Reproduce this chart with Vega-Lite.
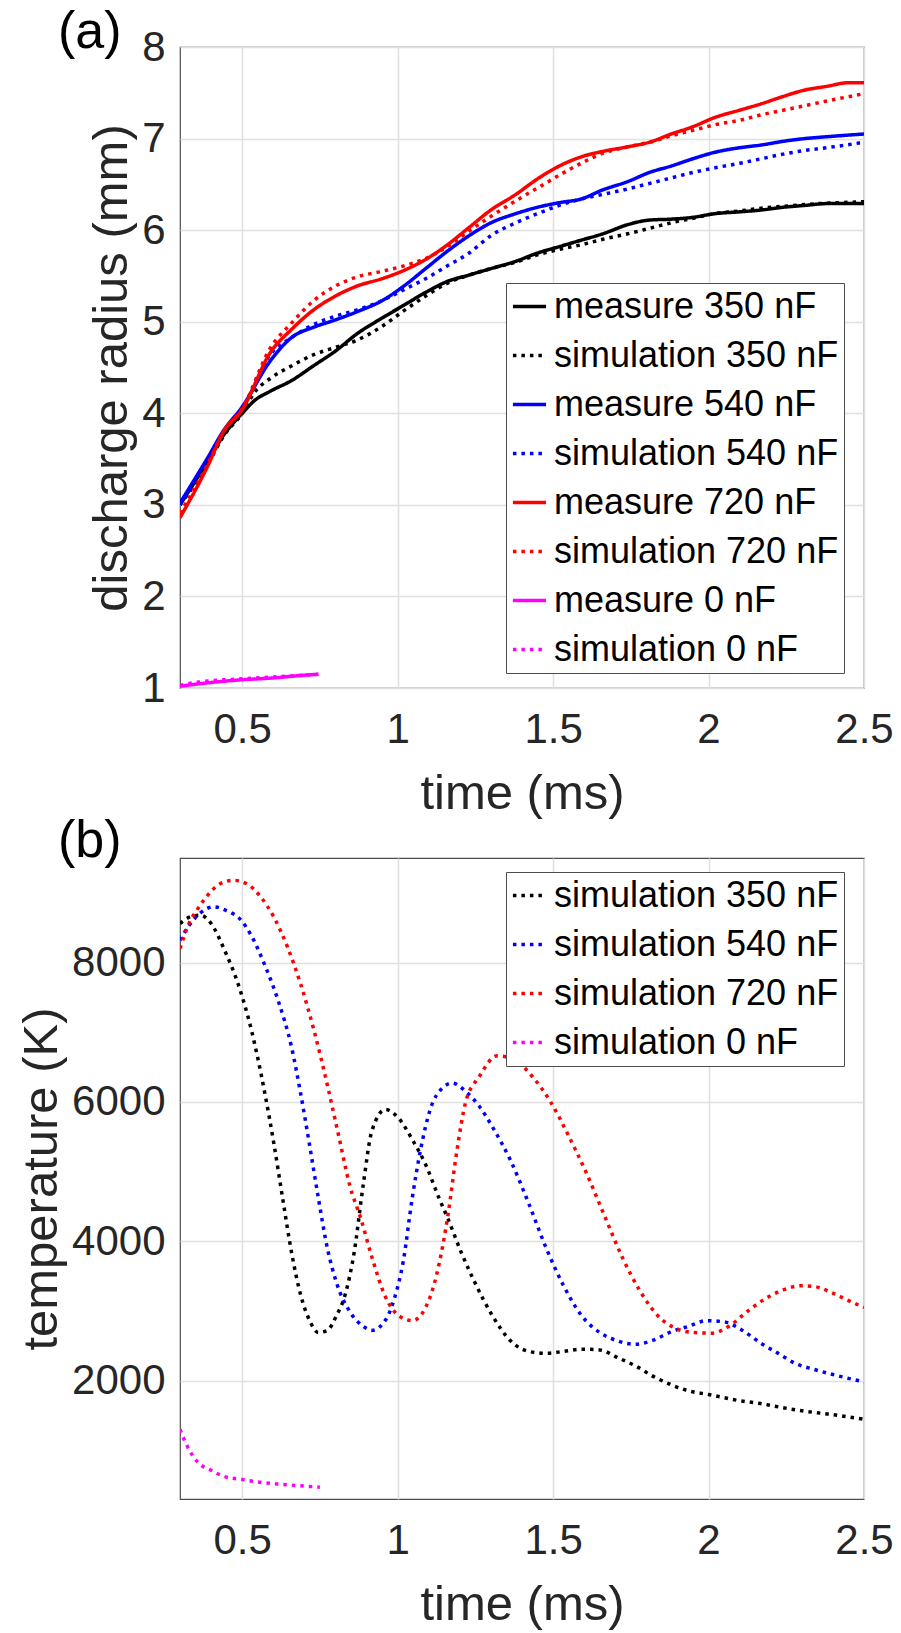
{
  "$schema": "https://vega.github.io/schema/vega-lite/v6.json",
  "padding": {"left": 16, "top": 5, "right": 0, "bottom": 0},
  "spacing": 170,
  "bounds": "flush",
  "config": {
    "font": "Liberation Sans",
    "view": {"stroke": "#4d4d4d", "strokeWidth": 1.2},
    "axis": {"labelFont": "Liberation Sans", "labelFontSize": 42, "labelColor": "#262626", "titleFont": "Liberation Sans", "titleFontSize": 49, "titleFontWeight": "normal", "titleColor": "#262626", "domain": false, "ticks": false, "tickSize": 0, "gridColor": "#e0e0e0", "gridWidth": 1.5, "gridOpacity": 1, "labelFlush": false, "labelOverlap": false},
    "axisX": {"labelPadding": 21, "titlePadding": 19},
    "axisY": {"labelPadding": 15, "titlePadding": 5},
    "legend": {"title": null, "symbolType": "stroke", "symbolSize": 1100, "symbolStrokeWidth": 3.5, "labelFont": "Liberation Sans", "labelFontSize": 36, "labelColor": "#000000", "rowPadding": 12, "padding": 5, "strokeColor": "#4d4d4d", "fillColor": "#ffffff", "labelOffset": 6, "orient": "none", "labelLimit": 400}
  },
  "datasets": {
    "radius": [
      {"s": "measure 350 nF", "t": 0.3, "r": 3.0}, {"s": "measure 350 nF", "t": 0.39, "r": 3.48}, {"s": "measure 350 nF", "t": 0.44, "r": 3.76}, {"s": "measure 350 nF", "t": 0.5, "r": 4.0}, {"s": "measure 350 nF", "t": 0.54, "r": 4.14}, {"s": "measure 350 nF", "t": 0.59, "r": 4.24}, {"s": "measure 350 nF", "t": 0.66, "r": 4.36}, {"s": "measure 350 nF", "t": 0.73, "r": 4.52}, {"s": "measure 350 nF", "t": 0.8, "r": 4.68}, {"s": "measure 350 nF", "t": 0.87, "r": 4.87}, {"s": "measure 350 nF", "t": 0.95, "r": 5.04}, {"s": "measure 350 nF", "t": 1.02, "r": 5.18}, {"s": "measure 350 nF", "t": 1.09, "r": 5.32}, {"s": "measure 350 nF", "t": 1.16, "r": 5.44}, {"s": "measure 350 nF", "t": 1.23, "r": 5.51}, {"s": "measure 350 nF", "t": 1.3, "r": 5.58}, {"s": "measure 350 nF", "t": 1.38, "r": 5.66}, {"s": "measure 350 nF", "t": 1.45, "r": 5.75}, {"s": "measure 350 nF", "t": 1.52, "r": 5.82}, {"s": "measure 350 nF", "t": 1.59, "r": 5.89}, {"s": "measure 350 nF", "t": 1.66, "r": 5.96}, {"s": "measure 350 nF", "t": 1.74, "r": 6.06}, {"s": "measure 350 nF", "t": 1.81, "r": 6.11}, {"s": "measure 350 nF", "t": 1.88, "r": 6.12}, {"s": "measure 350 nF", "t": 1.95, "r": 6.14}, {"s": "measure 350 nF", "t": 2.02, "r": 6.18}, {"s": "measure 350 nF", "t": 2.1, "r": 6.2}, {"s": "measure 350 nF", "t": 2.17, "r": 6.22}, {"s": "measure 350 nF", "t": 2.24, "r": 6.25}, {"s": "measure 350 nF", "t": 2.31, "r": 6.27}, {"s": "measure 350 nF", "t": 2.38, "r": 6.29}, {"s": "measure 350 nF", "t": 2.5, "r": 6.29},
      {"s": "simulation 350 nF", "t": 0.3, "r": 3.0}, {"s": "simulation 350 nF", "t": 0.39, "r": 3.45}, {"s": "simulation 350 nF", "t": 0.44, "r": 3.75}, {"s": "simulation 350 nF", "t": 0.5, "r": 4.0}, {"s": "simulation 350 nF", "t": 0.54, "r": 4.23}, {"s": "simulation 350 nF", "t": 0.59, "r": 4.38}, {"s": "simulation 350 nF", "t": 0.66, "r": 4.52}, {"s": "simulation 350 nF", "t": 0.73, "r": 4.64}, {"s": "simulation 350 nF", "t": 0.8, "r": 4.72}, {"s": "simulation 350 nF", "t": 0.87, "r": 4.8}, {"s": "simulation 350 nF", "t": 0.95, "r": 4.95}, {"s": "simulation 350 nF", "t": 1.02, "r": 5.12}, {"s": "simulation 350 nF", "t": 1.09, "r": 5.28}, {"s": "simulation 350 nF", "t": 1.16, "r": 5.42}, {"s": "simulation 350 nF", "t": 1.23, "r": 5.51}, {"s": "simulation 350 nF", "t": 1.3, "r": 5.58}, {"s": "simulation 350 nF", "t": 1.38, "r": 5.65}, {"s": "simulation 350 nF", "t": 1.45, "r": 5.73}, {"s": "simulation 350 nF", "t": 1.52, "r": 5.79}, {"s": "simulation 350 nF", "t": 1.59, "r": 5.84}, {"s": "simulation 350 nF", "t": 1.66, "r": 5.9}, {"s": "simulation 350 nF", "t": 1.74, "r": 5.96}, {"s": "simulation 350 nF", "t": 1.81, "r": 6.02}, {"s": "simulation 350 nF", "t": 1.88, "r": 6.08}, {"s": "simulation 350 nF", "t": 1.95, "r": 6.13}, {"s": "simulation 350 nF", "t": 2.02, "r": 6.18}, {"s": "simulation 350 nF", "t": 2.1, "r": 6.21}, {"s": "simulation 350 nF", "t": 2.17, "r": 6.24}, {"s": "simulation 350 nF", "t": 2.24, "r": 6.26}, {"s": "simulation 350 nF", "t": 2.31, "r": 6.28}, {"s": "simulation 350 nF", "t": 2.5, "r": 6.31},
      {"s": "measure 540 nF", "t": 0.3, "r": 3.02}, {"s": "measure 540 nF", "t": 0.39, "r": 3.52}, {"s": "measure 540 nF", "t": 0.44, "r": 3.81}, {"s": "measure 540 nF", "t": 0.5, "r": 4.07}, {"s": "measure 540 nF", "t": 0.59, "r": 4.57}, {"s": "measure 540 nF", "t": 0.66, "r": 4.83}, {"s": "measure 540 nF", "t": 0.73, "r": 4.94}, {"s": "measure 540 nF", "t": 0.8, "r": 5.02}, {"s": "measure 540 nF", "t": 0.87, "r": 5.11}, {"s": "measure 540 nF", "t": 0.95, "r": 5.23}, {"s": "measure 540 nF", "t": 1.02, "r": 5.39}, {"s": "measure 540 nF", "t": 1.09, "r": 5.58}, {"s": "measure 540 nF", "t": 1.16, "r": 5.77}, {"s": "measure 540 nF", "t": 1.23, "r": 5.94}, {"s": "measure 540 nF", "t": 1.3, "r": 6.08}, {"s": "measure 540 nF", "t": 1.38, "r": 6.18}, {"s": "measure 540 nF", "t": 1.45, "r": 6.25}, {"s": "measure 540 nF", "t": 1.52, "r": 6.3}, {"s": "measure 540 nF", "t": 1.59, "r": 6.34}, {"s": "measure 540 nF", "t": 1.66, "r": 6.44}, {"s": "measure 540 nF", "t": 1.74, "r": 6.53}, {"s": "measure 540 nF", "t": 1.81, "r": 6.63}, {"s": "measure 540 nF", "t": 1.88, "r": 6.7}, {"s": "measure 540 nF", "t": 1.95, "r": 6.78}, {"s": "measure 540 nF", "t": 2.02, "r": 6.85}, {"s": "measure 540 nF", "t": 2.1, "r": 6.9}, {"s": "measure 540 nF", "t": 2.17, "r": 6.93}, {"s": "measure 540 nF", "t": 2.24, "r": 6.97}, {"s": "measure 540 nF", "t": 2.31, "r": 7.0}, {"s": "measure 540 nF", "t": 2.38, "r": 7.02}, {"s": "measure 540 nF", "t": 2.5, "r": 7.05},
      {"s": "simulation 540 nF", "t": 0.3, "r": 3.0}, {"s": "simulation 540 nF", "t": 0.39, "r": 3.5}, {"s": "simulation 540 nF", "t": 0.44, "r": 3.8}, {"s": "simulation 540 nF", "t": 0.5, "r": 4.05}, {"s": "simulation 540 nF", "t": 0.59, "r": 4.64}, {"s": "simulation 540 nF", "t": 0.66, "r": 4.83}, {"s": "simulation 540 nF", "t": 0.73, "r": 4.97}, {"s": "simulation 540 nF", "t": 0.8, "r": 5.06}, {"s": "simulation 540 nF", "t": 0.87, "r": 5.13}, {"s": "simulation 540 nF", "t": 0.95, "r": 5.23}, {"s": "simulation 540 nF", "t": 1.02, "r": 5.35}, {"s": "simulation 540 nF", "t": 1.09, "r": 5.47}, {"s": "simulation 540 nF", "t": 1.16, "r": 5.61}, {"s": "simulation 540 nF", "t": 1.23, "r": 5.75}, {"s": "simulation 540 nF", "t": 1.3, "r": 5.94}, {"s": "simulation 540 nF", "t": 1.38, "r": 6.08}, {"s": "simulation 540 nF", "t": 1.45, "r": 6.18}, {"s": "simulation 540 nF", "t": 1.52, "r": 6.27}, {"s": "simulation 540 nF", "t": 1.59, "r": 6.34}, {"s": "simulation 540 nF", "t": 1.66, "r": 6.39}, {"s": "simulation 540 nF", "t": 1.74, "r": 6.45}, {"s": "simulation 540 nF", "t": 1.81, "r": 6.51}, {"s": "simulation 540 nF", "t": 1.88, "r": 6.57}, {"s": "simulation 540 nF", "t": 1.95, "r": 6.63}, {"s": "simulation 540 nF", "t": 2.02, "r": 6.68}, {"s": "simulation 540 nF", "t": 2.1, "r": 6.73}, {"s": "simulation 540 nF", "t": 2.17, "r": 6.78}, {"s": "simulation 540 nF", "t": 2.24, "r": 6.83}, {"s": "simulation 540 nF", "t": 2.31, "r": 6.87}, {"s": "simulation 540 nF", "t": 2.38, "r": 6.9}, {"s": "simulation 540 nF", "t": 2.5, "r": 6.96},
      {"s": "measure 720 nF", "t": 0.3, "r": 2.86}, {"s": "measure 720 nF", "t": 0.39, "r": 3.43}, {"s": "measure 720 nF", "t": 0.44, "r": 3.8}, {"s": "measure 720 nF", "t": 0.5, "r": 4.04}, {"s": "measure 720 nF", "t": 0.59, "r": 4.66}, {"s": "measure 720 nF", "t": 0.66, "r": 4.92}, {"s": "measure 720 nF", "t": 0.73, "r": 5.13}, {"s": "measure 720 nF", "t": 0.8, "r": 5.28}, {"s": "measure 720 nF", "t": 0.87, "r": 5.39}, {"s": "measure 720 nF", "t": 0.95, "r": 5.47}, {"s": "measure 720 nF", "t": 1.02, "r": 5.56}, {"s": "measure 720 nF", "t": 1.09, "r": 5.68}, {"s": "measure 720 nF", "t": 1.16, "r": 5.84}, {"s": "measure 720 nF", "t": 1.23, "r": 6.03}, {"s": "measure 720 nF", "t": 1.3, "r": 6.22}, {"s": "measure 720 nF", "t": 1.38, "r": 6.39}, {"s": "measure 720 nF", "t": 1.45, "r": 6.56}, {"s": "measure 720 nF", "t": 1.52, "r": 6.7}, {"s": "measure 720 nF", "t": 1.59, "r": 6.8}, {"s": "measure 720 nF", "t": 1.66, "r": 6.86}, {"s": "measure 720 nF", "t": 1.74, "r": 6.91}, {"s": "measure 720 nF", "t": 1.81, "r": 6.96}, {"s": "measure 720 nF", "t": 1.88, "r": 7.05}, {"s": "measure 720 nF", "t": 1.95, "r": 7.13}, {"s": "measure 720 nF", "t": 2.02, "r": 7.23}, {"s": "measure 720 nF", "t": 2.1, "r": 7.31}, {"s": "measure 720 nF", "t": 2.17, "r": 7.38}, {"s": "measure 720 nF", "t": 2.24, "r": 7.46}, {"s": "measure 720 nF", "t": 2.31, "r": 7.53}, {"s": "measure 720 nF", "t": 2.38, "r": 7.57}, {"s": "measure 720 nF", "t": 2.45, "r": 7.61}, {"s": "measure 720 nF", "t": 2.5, "r": 7.61},
      {"s": "simulation 720 nF", "t": 0.3, "r": 2.91}, {"s": "simulation 720 nF", "t": 0.39, "r": 3.45}, {"s": "simulation 720 nF", "t": 0.44, "r": 3.8}, {"s": "simulation 720 nF", "t": 0.5, "r": 4.05}, {"s": "simulation 720 nF", "t": 0.59, "r": 4.71}, {"s": "simulation 720 nF", "t": 0.66, "r": 4.99}, {"s": "simulation 720 nF", "t": 0.73, "r": 5.23}, {"s": "simulation 720 nF", "t": 0.8, "r": 5.39}, {"s": "simulation 720 nF", "t": 0.87, "r": 5.49}, {"s": "simulation 720 nF", "t": 0.95, "r": 5.55}, {"s": "simulation 720 nF", "t": 1.02, "r": 5.61}, {"s": "simulation 720 nF", "t": 1.09, "r": 5.69}, {"s": "simulation 720 nF", "t": 1.16, "r": 5.82}, {"s": "simulation 720 nF", "t": 1.23, "r": 5.99}, {"s": "simulation 720 nF", "t": 1.3, "r": 6.15}, {"s": "simulation 720 nF", "t": 1.38, "r": 6.32}, {"s": "simulation 720 nF", "t": 1.45, "r": 6.46}, {"s": "simulation 720 nF", "t": 1.52, "r": 6.6}, {"s": "simulation 720 nF", "t": 1.59, "r": 6.73}, {"s": "simulation 720 nF", "t": 1.66, "r": 6.84}, {"s": "simulation 720 nF", "t": 1.74, "r": 6.91}, {"s": "simulation 720 nF", "t": 1.81, "r": 6.96}, {"s": "simulation 720 nF", "t": 1.88, "r": 7.03}, {"s": "simulation 720 nF", "t": 1.95, "r": 7.09}, {"s": "simulation 720 nF", "t": 2.02, "r": 7.15}, {"s": "simulation 720 nF", "t": 2.1, "r": 7.2}, {"s": "simulation 720 nF", "t": 2.17, "r": 7.26}, {"s": "simulation 720 nF", "t": 2.24, "r": 7.31}, {"s": "simulation 720 nF", "t": 2.31, "r": 7.36}, {"s": "simulation 720 nF", "t": 2.38, "r": 7.41}, {"s": "simulation 720 nF", "t": 2.5, "r": 7.49},
      {"s": "measure 0 nF", "t": 0.3, "r": 1.02}, {"s": "measure 0 nF", "t": 0.4, "r": 1.06}, {"s": "measure 0 nF", "t": 0.5, "r": 1.09}, {"s": "measure 0 nF", "t": 0.6, "r": 1.11}, {"s": "measure 0 nF", "t": 0.7, "r": 1.14}, {"s": "measure 0 nF", "t": 0.745, "r": 1.15},
      {"s": "simulation 0 nF", "t": 0.3, "r": 1.03}, {"s": "simulation 0 nF", "t": 0.35, "r": 1.06}, {"s": "simulation 0 nF", "t": 0.4, "r": 1.08}, {"s": "simulation 0 nF", "t": 0.5, "r": 1.1}, {"s": "simulation 0 nF", "t": 0.6, "r": 1.12}, {"s": "simulation 0 nF", "t": 0.7, "r": 1.14}, {"s": "simulation 0 nF", "t": 0.745, "r": 1.15}
    ],
    "temp": [
      {"s": "simulation 350 nF", "t": 0.3, "T": 8560}, {"s": "simulation 350 nF", "t": 0.33, "T": 8650}, {"s": "simulation 350 nF", "t": 0.365, "T": 8680}, {"s": "simulation 350 nF", "t": 0.4, "T": 8560}, {"s": "simulation 350 nF", "t": 0.444, "T": 8170}, {"s": "simulation 350 nF", "t": 0.487, "T": 7690}, {"s": "simulation 350 nF", "t": 0.53, "T": 7025}, {"s": "simulation 350 nF", "t": 0.573, "T": 6120}, {"s": "simulation 350 nF", "t": 0.602, "T": 5400}, {"s": "simulation 350 nF", "t": 0.63, "T": 4620}, {"s": "simulation 350 nF", "t": 0.659, "T": 3835}, {"s": "simulation 350 nF", "t": 0.688, "T": 3230}, {"s": "simulation 350 nF", "t": 0.716, "T": 2870}, {"s": "simulation 350 nF", "t": 0.745, "T": 2690}, {"s": "simulation 350 nF", "t": 0.774, "T": 2720}, {"s": "simulation 350 nF", "t": 0.803, "T": 2930}, {"s": "simulation 350 nF", "t": 0.831, "T": 3230}, {"s": "simulation 350 nF", "t": 0.86, "T": 3835}, {"s": "simulation 350 nF", "t": 0.889, "T": 4800}, {"s": "simulation 350 nF", "t": 0.917, "T": 5580}, {"s": "simulation 350 nF", "t": 0.961, "T": 5890}, {"s": "simulation 350 nF", "t": 1.004, "T": 5760}, {"s": "simulation 350 nF", "t": 1.047, "T": 5460}, {"s": "simulation 350 nF", "t": 1.09, "T": 5100}, {"s": "simulation 350 nF", "t": 1.133, "T": 4620}, {"s": "simulation 350 nF", "t": 1.162, "T": 4320}, {"s": "simulation 350 nF", "t": 1.205, "T": 3835}, {"s": "simulation 350 nF", "t": 1.248, "T": 3410}, {"s": "simulation 350 nF", "t": 1.305, "T": 2930}, {"s": "simulation 350 nF", "t": 1.363, "T": 2570}, {"s": "simulation 350 nF", "t": 1.42, "T": 2420}, {"s": "simulation 350 nF", "t": 1.478, "T": 2390}, {"s": "simulation 350 nF", "t": 1.535, "T": 2420}, {"s": "simulation 350 nF", "t": 1.592, "T": 2450}, {"s": "simulation 350 nF", "t": 1.65, "T": 2440}, {"s": "simulation 350 nF", "t": 1.707, "T": 2330}, {"s": "simulation 350 nF", "t": 1.765, "T": 2210}, {"s": "simulation 350 nF", "t": 1.822, "T": 2060}, {"s": "simulation 350 nF", "t": 1.88, "T": 1940}, {"s": "simulation 350 nF", "t": 1.937, "T": 1850}, {"s": "simulation 350 nF", "t": 2.0, "T": 1800}, {"s": "simulation 350 nF", "t": 2.095, "T": 1715}, {"s": "simulation 350 nF", "t": 2.167, "T": 1670}, {"s": "simulation 350 nF", "t": 2.239, "T": 1610}, {"s": "simulation 350 nF", "t": 2.31, "T": 1560}, {"s": "simulation 350 nF", "t": 2.382, "T": 1520}, {"s": "simulation 350 nF", "t": 2.5, "T": 1445},
      {"s": "simulation 540 nF", "t": 0.3, "T": 8320}, {"s": "simulation 540 nF", "t": 0.329, "T": 8530}, {"s": "simulation 540 nF", "t": 0.365, "T": 8710}, {"s": "simulation 540 nF", "t": 0.408, "T": 8800}, {"s": "simulation 540 nF", "t": 0.451, "T": 8740}, {"s": "simulation 540 nF", "t": 0.494, "T": 8620}, {"s": "simulation 540 nF", "t": 0.53, "T": 8380}, {"s": "simulation 540 nF", "t": 0.573, "T": 7960}, {"s": "simulation 540 nF", "t": 0.616, "T": 7450}, {"s": "simulation 540 nF", "t": 0.659, "T": 6780}, {"s": "simulation 540 nF", "t": 0.688, "T": 6120}, {"s": "simulation 540 nF", "t": 0.716, "T": 5400}, {"s": "simulation 540 nF", "t": 0.745, "T": 4620}, {"s": "simulation 540 nF", "t": 0.774, "T": 3900}, {"s": "simulation 540 nF", "t": 0.803, "T": 3410}, {"s": "simulation 540 nF", "t": 0.846, "T": 2990}, {"s": "simulation 540 nF", "t": 0.889, "T": 2780}, {"s": "simulation 540 nF", "t": 0.917, "T": 2720}, {"s": "simulation 540 nF", "t": 0.961, "T": 2870}, {"s": "simulation 540 nF", "t": 0.989, "T": 3170}, {"s": "simulation 540 nF", "t": 1.018, "T": 3710}, {"s": "simulation 540 nF", "t": 1.047, "T": 4620}, {"s": "simulation 540 nF", "t": 1.075, "T": 5340}, {"s": "simulation 540 nF", "t": 1.104, "T": 5880}, {"s": "simulation 540 nF", "t": 1.147, "T": 6210}, {"s": "simulation 540 nF", "t": 1.176, "T": 6270}, {"s": "simulation 540 nF", "t": 1.219, "T": 6150}, {"s": "simulation 540 nF", "t": 1.262, "T": 5940}, {"s": "simulation 540 nF", "t": 1.305, "T": 5640}, {"s": "simulation 540 nF", "t": 1.363, "T": 5160}, {"s": "simulation 540 nF", "t": 1.42, "T": 4560}, {"s": "simulation 540 nF", "t": 1.478, "T": 3900}, {"s": "simulation 540 nF", "t": 1.535, "T": 3350}, {"s": "simulation 540 nF", "t": 1.592, "T": 2930}, {"s": "simulation 540 nF", "t": 1.65, "T": 2690}, {"s": "simulation 540 nF", "t": 1.707, "T": 2570}, {"s": "simulation 540 nF", "t": 1.765, "T": 2520}, {"s": "simulation 540 nF", "t": 1.822, "T": 2580}, {"s": "simulation 540 nF", "t": 1.88, "T": 2700}, {"s": "simulation 540 nF", "t": 1.937, "T": 2780}, {"s": "simulation 540 nF", "t": 1.994, "T": 2860}, {"s": "simulation 540 nF", "t": 2.052, "T": 2840}, {"s": "simulation 540 nF", "t": 2.109, "T": 2720}, {"s": "simulation 540 nF", "t": 2.167, "T": 2540}, {"s": "simulation 540 nF", "t": 2.224, "T": 2390}, {"s": "simulation 540 nF", "t": 2.282, "T": 2240}, {"s": "simulation 540 nF", "t": 2.339, "T": 2160}, {"s": "simulation 540 nF", "t": 2.397, "T": 2090}, {"s": "simulation 540 nF", "t": 2.5, "T": 1980},
      {"s": "simulation 720 nF", "t": 0.3, "T": 8200}, {"s": "simulation 720 nF", "t": 0.329, "T": 8560}, {"s": "simulation 720 nF", "t": 0.357, "T": 8770}, {"s": "simulation 720 nF", "t": 0.386, "T": 8950}, {"s": "simulation 720 nF", "t": 0.429, "T": 9130}, {"s": "simulation 720 nF", "t": 0.472, "T": 9180}, {"s": "simulation 720 nF", "t": 0.515, "T": 9130}, {"s": "simulation 720 nF", "t": 0.558, "T": 8950}, {"s": "simulation 720 nF", "t": 0.602, "T": 8650}, {"s": "simulation 720 nF", "t": 0.645, "T": 8230}, {"s": "simulation 720 nF", "t": 0.688, "T": 7690}, {"s": "simulation 720 nF", "t": 0.731, "T": 7025}, {"s": "simulation 720 nF", "t": 0.774, "T": 6240}, {"s": "simulation 720 nF", "t": 0.81, "T": 5520}, {"s": "simulation 720 nF", "t": 0.846, "T": 4800}, {"s": "simulation 720 nF", "t": 0.882, "T": 4320}, {"s": "simulation 720 nF", "t": 0.917, "T": 3775}, {"s": "simulation 720 nF", "t": 0.961, "T": 3200}, {"s": "simulation 720 nF", "t": 1.004, "T": 2930}, {"s": "simulation 720 nF", "t": 1.047, "T": 2860}, {"s": "simulation 720 nF", "t": 1.09, "T": 3050}, {"s": "simulation 720 nF", "t": 1.126, "T": 3530}, {"s": "simulation 720 nF", "t": 1.162, "T": 4380}, {"s": "simulation 720 nF", "t": 1.19, "T": 5280}, {"s": "simulation 720 nF", "t": 1.219, "T": 6000}, {"s": "simulation 720 nF", "t": 1.262, "T": 6360}, {"s": "simulation 720 nF", "t": 1.32, "T": 6660}, {"s": "simulation 720 nF", "t": 1.377, "T": 6600}, {"s": "simulation 720 nF", "t": 1.434, "T": 6360}, {"s": "simulation 720 nF", "t": 1.492, "T": 6000}, {"s": "simulation 720 nF", "t": 1.549, "T": 5520}, {"s": "simulation 720 nF", "t": 1.607, "T": 4980}, {"s": "simulation 720 nF", "t": 1.664, "T": 4380}, {"s": "simulation 720 nF", "t": 1.722, "T": 3775}, {"s": "simulation 720 nF", "t": 1.779, "T": 3290}, {"s": "simulation 720 nF", "t": 1.837, "T": 2930}, {"s": "simulation 720 nF", "t": 1.894, "T": 2750}, {"s": "simulation 720 nF", "t": 1.951, "T": 2690}, {"s": "simulation 720 nF", "t": 2.009, "T": 2680}, {"s": "simulation 720 nF", "t": 2.066, "T": 2780}, {"s": "simulation 720 nF", "t": 2.124, "T": 2990}, {"s": "simulation 720 nF", "t": 2.181, "T": 3170}, {"s": "simulation 720 nF", "t": 2.239, "T": 3300}, {"s": "simulation 720 nF", "t": 2.296, "T": 3360}, {"s": "simulation 720 nF", "t": 2.339, "T": 3350}, {"s": "simulation 720 nF", "t": 2.397, "T": 3260}, {"s": "simulation 720 nF", "t": 2.454, "T": 3140}, {"s": "simulation 720 nF", "t": 2.5, "T": 3050},
      {"s": "simulation 0 nF", "t": 0.3, "T": 1300}, {"s": "simulation 0 nF", "t": 0.322, "T": 1070}, {"s": "simulation 0 nF", "t": 0.357, "T": 830}, {"s": "simulation 0 nF", "t": 0.401, "T": 710}, {"s": "simulation 0 nF", "t": 0.444, "T": 620}, {"s": "simulation 0 nF", "t": 0.5, "T": 580}, {"s": "simulation 0 nF", "t": 0.558, "T": 540}, {"s": "simulation 0 nF", "t": 0.63, "T": 510}, {"s": "simulation 0 nF", "t": 0.75, "T": 470}
    ]
  },
  "vconcat": [
    {
      "width": 684,
      "height": 641,
      "title": {"text": "(a)", "anchor": "start", "frame": "group", "fontSize": 52, "fontWeight": "normal", "font": "Liberation Sans", "color": "#000000", "baseline": "alphabetic", "offset": 0, "dx": -122, "dy": 74},
      "data": {"name": "radius"},
      "mark": {"type": "line", "strokeWidth": 3.5, "strokeCap": "butt", "interpolate": "monotone", "clip": true},
      "encoding": {
        "x": {"field": "t", "type": "quantitative", "scale": {"domain": [0.3, 2.5], "nice": false, "zero": false}, "axis": {"title": "time (ms)", "values": [0.5, 1, 1.5, 2, 2.5], "format": "~g"}},
        "y": {"field": "r", "type": "quantitative", "scale": {"domain": [1, 8], "nice": false, "zero": false}, "axis": {"title": "discharge radius (mm)", "values": [1, 2, 3, 4, 5, 6, 7, 8]}},
        "color": {"field": "s", "type": "nominal", "scale": {"domain": ["measure 350 nF", "simulation 350 nF", "measure 540 nF", "simulation 540 nF", "measure 720 nF", "simulation 720 nF", "measure 0 nF", "simulation 0 nF"], "range": ["#000000", "#000000", "#0000ff", "#0000ff", "#ff0000", "#ff0000", "#ff00ff", "#ff00ff"]}, "legend": {"orient": "none", "legendX": 326, "legendY": 236}},
        "strokeDash": {"field": "s", "type": "nominal", "scale": {"domain": ["measure 350 nF", "simulation 350 nF", "measure 540 nF", "simulation 540 nF", "measure 720 nF", "simulation 720 nF", "measure 0 nF", "simulation 0 nF"], "range": [[1, 0], [3.5, 5], [1, 0], [3.5, 5], [1, 0], [3.5, 5], [1, 0], [3.5, 5]]}, "legend": {"orient": "none", "legendX": 326, "legendY": 236}}
      }
    },
    {
      "width": 684,
      "height": 641,
      "title": {"text": "(b)", "anchor": "start", "frame": "group", "fontSize": 52, "fontWeight": "normal", "font": "Liberation Sans", "color": "#000000", "baseline": "alphabetic", "offset": 0, "dx": -122, "dy": 51},
      "data": {"name": "temp"},
      "mark": {"type": "line", "strokeWidth": 3.5, "strokeCap": "butt", "interpolate": "monotone", "clip": true},
      "encoding": {
        "x": {"field": "t", "type": "quantitative", "scale": {"domain": [0.3, 2.5], "nice": false, "zero": false}, "axis": {"title": "time (ms)", "values": [0.5, 1, 1.5, 2, 2.5], "format": "~g"}},
        "y": {"field": "T", "type": "quantitative", "scale": {"domain": [300, 9500], "nice": false, "zero": false}, "axis": {"title": "temperature (K)", "values": [2000, 4000, 6000, 8000], "format": "d"}},
        "color": {"field": "s", "type": "nominal", "scale": {"domain": ["simulation 350 nF", "simulation 540 nF", "simulation 720 nF", "simulation 0 nF"], "range": ["#000000", "#0000ff", "#ff0000", "#ff00ff"]}, "legend": {"orient": "none", "legendX": 326, "legendY": 14}},
        "strokeDash": {"field": "s", "type": "nominal", "scale": {"domain": ["simulation 350 nF", "simulation 540 nF", "simulation 720 nF", "simulation 0 nF"], "range": [[3.5, 5], [3.5, 5], [3.5, 5], [3.5, 5]]}, "legend": {"orient": "none", "legendX": 326, "legendY": 14}}
      }
    }
  ],
  "resolve": {"scale": {"color": "independent", "strokeDash": "independent"}, "legend": {"color": "independent", "strokeDash": "independent"}}
}
